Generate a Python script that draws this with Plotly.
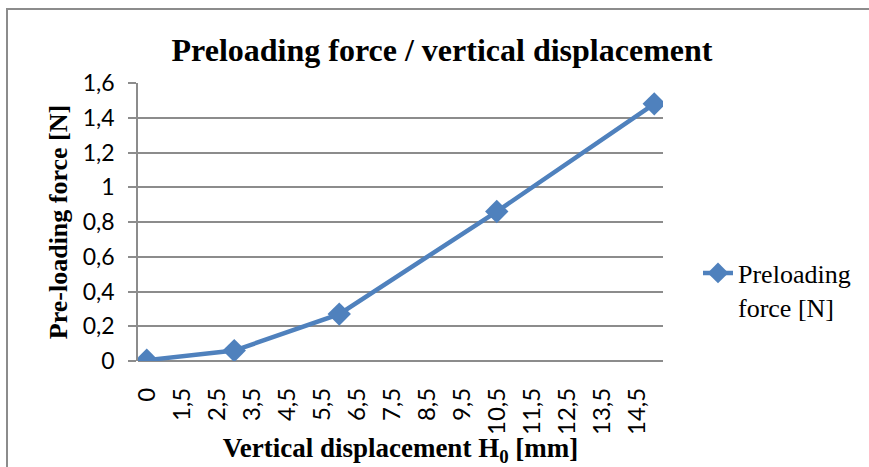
import plotly.graph_objects as go

# Data (x in axis-position units of the original category-like axis)
x_pos = [0, 2.5, 5.5, 10, 14.5]
force_N = [0.005, 0.06, 0.27, 0.86, 1.48]
x_tick_pos = list(range(15))
x_tick_labels = ["0", "1,5", "2,5", "3,5", "4,5", "5,5", "6,5", "7,5", "8,5",
                 "9,5", "10,5", "11,5", "12,5", "13,5", "14,5"]
y_ticks = [0, 0.2, 0.4, 0.6, 0.8, 1, 1.2, 1.4, 1.6]

W, H = 869, 467
L, R, T, B = 138, 206, 83, 106
pw, ph = W - L - R, H - T - B

serif = "Liberation Serif, Times New Roman, serif"
sans = "Lato, Carlito, Calibri, sans-serif"

fig = go.Figure()
fig.add_trace(go.Scatter(
    x=x_pos, y=force_N, mode="lines+markers",
    name="Preloading<br>force [N]",
    line=dict(color="#4F81BD", width=4.5),
    marker=dict(symbol="diamond", size=18, color="#4F81BD"),
))

grid = "#8c8c8c"
fig.update_layout(
    width=W, height=H,
    margin=dict(l=L, r=R, t=T, b=B, pad=0, autoexpand=False),
    paper_bgcolor="white", plot_bgcolor="white",
    separators=", ",
    title=dict(text="<b>Preloading force / vertical displacement</b>",
               font=dict(family=serif, size=32, color="black"),
               x=442 / W, xanchor="center", y=1 - 50 / H, yanchor="middle"),
    showlegend=True,
    legend=dict(x=(698 - L) / pw, xanchor="left", y=(361 - 290) / ph, yanchor="middle",
                font=dict(family=serif, size=26, color="black"),
                bgcolor="rgba(0,0,0,0)", valign="top", itemwidth=30,
                tracegroupgap=0),
    xaxis=dict(range=[-0.25, 14.75], tickmode="array", tickvals=x_tick_pos,
               ticktext=x_tick_labels, tickangle=-90, showgrid=False,
               zeroline=False, showline=False, ticks="", automargin=False,
               ticklabelstandoff=21,
               tickfont=dict(family=sans, size=24, color="black"),
               title=dict(text="<b>Vertical displacement H<sub>0</sub> [mm]</b>",
                          font=dict(family=serif, size=27, color="black"), standoff=7)),
    yaxis=dict(range=[0, 1.6], tickmode="array", tickvals=y_ticks,
               tickformat=".1~f", showgrid=True, gridcolor=grid, gridwidth=1.5,
               zeroline=True, zerolinecolor=grid, zerolinewidth=1.5,
               showline=True, linecolor=grid, linewidth=1.5,
               ticks="outside", ticklen=8, tickcolor=grid, tickwidth=1.5,
               ticklabelstandoff=9, automargin=False,
               tickfont=dict(family=sans, size=23, color="black"),
               title=dict(text="<b>Pre-loading force [N]</b>",
                          font=dict(family=serif, size=26, color="black"), standoff=8)),
)

# outer chart border (left and top edges visible)
fig.add_shape(type="rect", xref="paper", yref="paper",
              x0=(7 - L) / pw, x1=(875 - L) / pw, y0=(361 - 475) / ph, y1=(361 - 9) / ph,
              line=dict(color="#8c8c8c", width=2), fillcolor="rgba(0,0,0,0)", layer="below")

fig.write_html("out.html")
